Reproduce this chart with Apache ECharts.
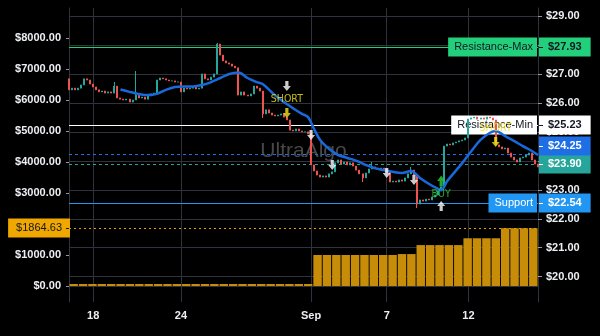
<!DOCTYPE html>
<html>
<head>
<meta charset="utf-8">
<script src="https://cdn.jsdelivr.net/npm/echarts@6/dist/echarts.min.js"></script>
<style>
  html, body { margin: 0; padding: 0; background: #000; }
  #main { width: 600px; height: 336px; }
</style>
</head>
<body>
<div id="main"></div>
<script>
// price candles (right axis), open of each candle = previous close
const firstOpen = 26.83
const closes = [
  26.45, 26.51, 26.45, 26.51, 26.62, 26.83, 26.79, 26.65, 26.55, 26.45,
  26.38, 26.41, 26.34, 26.38, 26.34, 26.58, 26.17, 26.13, 26.10, 26.13,
  26.03, 26.10, 26.27, 26.17, 26.20, 26.13, 26.24, 26.31, 26.34, 26.79,
  26.86, 26.83, 26.79, 26.76, 26.76, 26.72, 26.72, 26.38, 26.51, 26.48,
  26.51, 26.55, 26.48, 26.51, 27.00, 26.83, 26.79, 26.89, 27.00, 28.03,
  27.65, 27.45, 27.38, 27.34, 27.27, 27.21, 26.27, 26.38, 26.27, 26.24,
  26.31, 26.58, 26.51, 26.41, 25.62, 25.76, 25.65, 25.58, 25.55, 25.58,
  25.62, 25.51, 25.41, 25.06, 25.03, 25.10, 25.03, 25.00, 25.00, 24.93,
  23.86, 23.65, 23.51, 23.44, 23.48, 23.44, 23.55, 23.62, 23.93, 24.03,
  23.89, 23.96, 23.86, 23.93, 23.82, 23.68, 23.55, 23.41, 23.58, 23.72,
  23.79, 23.75, 23.72, 23.75, 23.68, 23.62, 23.27, 23.30, 23.27, 23.34,
  23.30, 23.41, 23.55, 23.68, 23.51, 22.51, 22.65, 22.61, 22.68, 22.65,
  22.75, 22.82, 22.96, 23.10, 24.51, 24.58, 24.55, 24.62, 24.65, 24.69,
  24.72, 24.79, 25.44, 25.48, 25.51, 25.44, 25.48, 25.44, 25.51, 25.48,
  25.41, 24.55, 24.48, 24.41, 24.44, 24.27, 24.13, 24.03, 23.96, 24.10,
  24.13, 24.20, 24.27, 24.03, 23.89, 23.79
]
// wicks that stick out of the bodies: [candle index, price]
const highWicks = [[15, 26.72], [22, 27.10], [49, 28.07], [100, 23.96], [113, 23.79]]
const lowWicks = [[64, 25.48], [97, 23.27], [115, 22.37]]

// smoothed trend line
const trendIdx = [17, 20, 23, 26, 29, 32, 35, 38, 41, 44, 47, 50, 53, 56, 59, 62, 64, 68, 71, 74,
  77, 79, 81, 83, 86, 89, 92, 95, 98, 101, 104, 107, 110, 113, 116, 119, 122, 123, 125, 128,
  130, 133, 136, 139, 141, 144, 147, 150, 153, 155]
const trendVal = [26.46, 26.38, 26.31, 26.27, 26.31, 26.45, 26.55, 26.57, 26.57, 26.62,
  26.72, 26.86, 27.00, 27.05, 26.86, 26.72, 26.65, 26.27, 26.03, 25.82,
  25.62, 25.51, 25.10, 24.72, 24.41, 24.20, 24.10, 24.00, 23.86, 23.75,
  23.68, 23.62, 23.58, 23.65, 23.41, 23.20, 23.03, 22.99, 23.30, 23.68,
  23.93, 24.34, 24.72, 24.96, 25.03, 24.86, 24.69, 24.51, 24.34, 24.20]

// equity histogram (left axis)
const equity = [
  0, 0, 0, 0, 0, 0, 0, 0, 0, 0,
  0, 0, 0, 0, 0, 0, 0, 0, 0, 0,
  0, 0, 0, 0, 0, 0, 1000, 1000, 1000, 1000,
  1000, 1000, 1000, 1000, 1000, 1030, 1030, 1320, 1320, 1320,
  1320, 1320, 1540, 1540, 1540, 1540, 1864.63, 1864.63, 1864.63, 1864.63
]
const equityLast = 1864.63

// date labels on the candle axis
const dateIdx = [8, 37, 80, 105, 132]
const dateText = ['18', '24', 'Sep', '7', '12']

// signals: [candle index, price]
const exitMarks = [[72, 26.58], [80, 24.89], [87, 23.86], [105, 23.58], [114, 23.34]]
const entryMarks = [[123, 22.44]]
const shortMarks = [[72, 25.65], [141, 24.65]]
const buyMarks = [[123, 23.30]]

// horizontal price levels
const levelNames = ['Resistance-Max', 'Resistance-Min', '', '', 'Support']
const levelValues = [27.93, 25.23, 24.25, 23.90, 22.54]

const levelStyles = [
  { bg: '#22d07c', fg: '#131722', dash: null },
  { bg: '#ffffff', fg: '#131722', dash: null },
  { bg: '#1e6fe6', fg: '#ffffff', dash: [3, 3] },
  { bg: '#26a69a', fg: '#ffffff', dash: [3, 3] },
  { bg: '#2196f3', fg: '#ffffff', dash: null }
]

const GRID = { left: 69, right: 62, top: 8, bottom: 34 }
const gridColor = '#30333d'
const textColor = '#eceef2'
const FONT = '"Liberation Sans", Arial, sans-serif'
const NARROW = '"DejaVu Sans Condensed", "Liberation Sans Narrow", sans-serif'

const arrowDown = 'path://M3,0 H7 V5 H10 L5,10 L0,5 H3 Z'
const arrowUp = 'path://M5,0 L10,5 H7 V10 H3 V5 H0 Z'

function buildCandles() {
  const out = []
  let prev = firstOpen
  closes.forEach(c => {
    out.push([prev, c, Math.min(prev, c), Math.max(prev, c)])
    prev = c
  })
  highWicks.forEach(([i, v]) => { out[i][3] = Math.max(out[i][3], v) })
  lowWicks.forEach(([i, v]) => { out[i][2] = Math.min(out[i][2], v) })
  return out
}

function isDate(i) {
  return dateIdx.indexOf(i) >= 0
}

function arrowSeries(data, symbol, color, size, label) {
  return {
    type: 'scatter',
    xAxisIndex: 0,
    yAxisIndex: 1,
    data: data,
    symbol: symbol,
    symbolSize: size,
    itemStyle: { color: color },
    label: label || { show: false },
    z: 6
  }
}

function getOption() {
  const money = v => '$' + v.toFixed(2)
  const axisText = { formatter: money, color: textColor, fontSize: 11, fontWeight: 'bold', fontFamily: FONT, margin: 8 }
  return {
    backgroundColor: '#000000',
    animation: false,
    grid: Object.assign({ outerBoundsMode: 'none' }, GRID),
    xAxis: [
      {
        type: 'category',
        data: closes.map((_, i) => i),
        boundaryGap: false,
        axisLine: { lineStyle: { color: gridColor } },
        axisTick: { show: true, length: 3, interval: isDate, lineStyle: { color: gridColor } },
        axisLabel: {
          interval: isDate,
          formatter: (v, i) => dateText[dateIdx.indexOf(i)] || '',
          color: textColor, fontSize: 11, fontWeight: 'bold', fontFamily: FONT, margin: 8
        },
        splitLine: { show: true, interval: isDate, lineStyle: { color: gridColor } }
      },
      {
        type: 'category',
        data: equity.map((_, i) => i),
        show: false
      }
    ],
    yAxis: [
      {
        type: 'value',
        position: 'left',
        min: -516,
        max: 8968,
        splitNumber: 9,
        splitLine: { show: false },
        axisLine: { show: true, lineStyle: { color: gridColor } },
        axisTick: { show: true, length: 3, lineStyle: { color: '#9598a1' } },
        axisLabel: Object.assign({ showMinLabel: false, showMaxLabel: false }, axisText)
      },
      {
        type: 'value',
        position: 'right',
        min: 19.127,
        max: 29.276,
        splitNumber: 10,
        splitLine: { show: true, showMinLine: false, showMaxLine: false, lineStyle: { color: gridColor } },
        axisLine: { show: true, lineStyle: { color: gridColor } },
        axisTick: { show: true, length: 4, lineStyle: { color: '#9598a1' } },
        axisLabel: Object.assign({ showMinLabel: false, showMaxLabel: false }, axisText)
      }
    ],
    series: [
      {
        type: 'bar',
        name: 'equity',
        xAxisIndex: 1,
        yAxisIndex: 0,
        data: equity,
        barCategoryGap: '10%',
        barMinHeight: 2,
        itemStyle: { color: '#c78d08' },
        markLine: {
          silent: true,
          symbol: ['none', 'none'],
          label: { show: false },
          lineStyle: { color: '#e0a000', type: [2, 3], width: 1 },
          data: [{ yAxis: equityLast }]
        }
      },
      {
        type: 'candlestick',
        name: 'price',
        xAxisIndex: 0,
        yAxisIndex: 1,
        data: buildCandles(),
        barWidth: 1.5,
        z: 3,
        itemStyle: {
          color: '#26a69a', color0: '#ef5350',
          borderColor: '#26a69a', borderColor0: '#ef5350', borderWidth: 1
        }
      },
      {
        type: 'line',
        name: 'trend',
        xAxisIndex: 0,
        yAxisIndex: 1,
        data: trendIdx.map((x, k) => [x, trendVal[k]]),
        smooth: 0.35,
        symbol: 'none',
        lineStyle: { color: '#1769dc', width: 2.5 },
        z: 4
      },
      arrowSeries(exitMarks, arrowDown, '#ffffff', [8, 10]),
      arrowSeries(entryMarks, arrowUp, '#ffffff', [8, 10]),
      arrowSeries(shortMarks, arrowDown, '#f2e51c', [8, 10], {
        show: true, position: 'top', distance: 3, formatter: 'SHORT',
        color: '#f2e51c', fontSize: 10.5, fontFamily: NARROW
      }),
      arrowSeries(buyMarks, arrowUp, '#2ed13a', [8, 11], {
        show: true, position: 'bottom', distance: 2, formatter: 'BUY',
        color: '#2ed13a', fontSize: 10.5, fontFamily: NARROW
      })
    ]
  }
}

function tagText(x, y, text, bg, fg, align, padding, weight) {
  return {
    type: 'text',
    x: x,
    y: Math.round(y),
    z: 1,
    silent: true,
    style: {
      text: text, fill: fg, backgroundColor: bg, padding: padding,
      font: (weight || 'normal') + ' 11px ' + FONT, lineHeight: 13, align: align, verticalAlign: 'middle'
    }
  }
}

function hLine(x1, x2, y, color, dash, z) {
  const yy = Math.round(y) + 0.5
  return {
    type: 'line', z: z, silent: true,
    shape: { x1: x1, y1: yy, x2: x2, y2: yy },
    style: { stroke: color, lineWidth: 1, lineDash: dash || null }
  }
}

// level lines and price tags, positioned through the chart's own scales
function buildTags(chart) {
  const left = chart.convertToPixel({ xAxisIndex: 0 }, 0)
  const right = chart.convertToPixel({ xAxisIndex: 0 }, closes.length - 1)
  const els = []
  const half = 9

  levelValues.forEach((v, k) => {
    const y = chart.convertToPixel({ yAxisIndex: 1 }, v)
    els.push(hLine(left, right, y, levelStyles[k].bg, levelStyles[k].dash, 1))
  })

  const order = levelValues
    .map((v, k) => ({ k: k, y: chart.convertToPixel({ yAxisIndex: 1 }, v) }))
    .sort((a, b) => b.y - a.y)
  let limit = Infinity
  order.forEach(o => {
    const st = levelStyles[o.k]
    const y = Math.min(o.y, limit - half)
    limit = y - half
    els.push(tagText(right + 1, y, '$' + levelValues[o.k].toFixed(2), st.bg, st.fg, 'left', [3, 9, 3, 9], 'bold'))
    els.push(hLine(right + 1, right + 5, y, st.fg, null, 2))
    if (levelNames[o.k]) {
      els.push(tagText(right - 1, o.y, levelNames[o.k], st.bg, st.fg, 'right', [3, 4, 3, 6]))
    }
  })

  const ey = chart.convertToPixel({ yAxisIndex: 0 }, equityLast)
  els.push(tagText(left + 1, ey, '$' + equityLast.toFixed(2), '#f0a800', '#131722', 'right', [3, 8, 3, 8]))
  els.push(hLine(left - 3, left, ey, '#131722', null, 2))

  // watermark
  els.push({
    type: 'text', z: 0, silent: true,
    x: (left + right) / 2,
    y: (GRID.top + 336 - GRID.bottom) / 2 - 4,
    style: {
      text: 'UltraAlgo', fill: 'rgba(120,120,120,0.6)', font: '21px ' + FONT,
      align: 'center', verticalAlign: 'middle'
    }
  })
  return els
}

const chart = echarts.init(document.getElementById('main'))
chart.setOption(getOption())
chart.setOption({ graphic: buildTags(chart) })
</script>
</body>
</html>
